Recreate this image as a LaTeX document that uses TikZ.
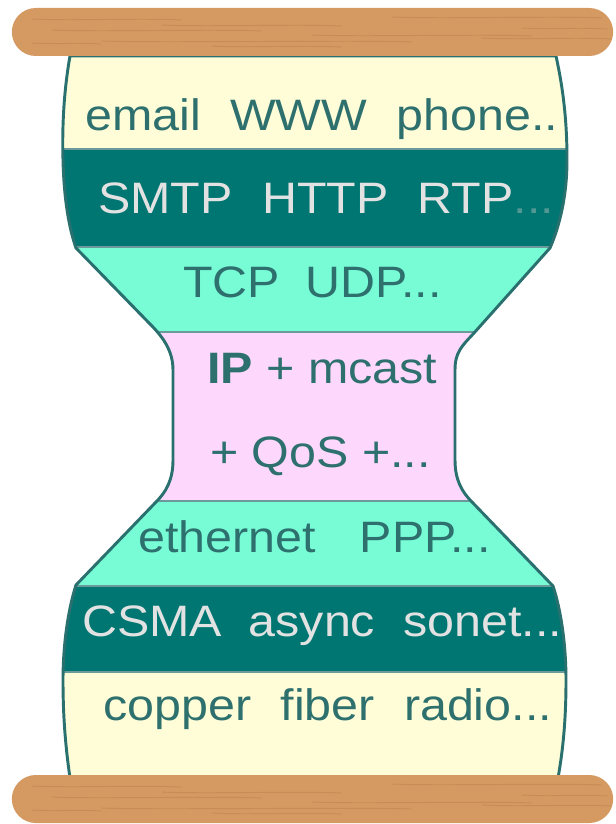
\documentclass[tikz,border=0pt]{standalone}
\usepackage{fontspec}
\setmainfont{Liberation Sans}[FakeStretch=1.1]
\usepackage{xcolor}
\usepackage{tikz}

\definecolor{cream}{RGB}{255,253,216}
\definecolor{deepteal}{RGB}{0,118,114}
\definecolor{aqua}{RGB}{120,252,214}
\definecolor{lilac}{RGB}{253,216,252}
\definecolor{rim}{RGB}{42,112,111}
\definecolor{ink}{RGB}{46,112,110}
\definecolor{paleink}{RGB}{226,226,226}
\definecolor{fadedots}{RGB}{80,150,146}
\definecolor{woodlight}{RGB}{236,192,142}
\definecolor{wooddark}{RGB}{212,154,98}
\definecolor{grain}{RGB}{160,108,62}

% outline of the hourglass (x right, y down)
\newcommand{\glassoutline}{(70,56) .. controls (64,90) and (62,125) .. (63,160)
    .. controls (64,200) and (69,228) .. (76,248) -- (150,324)
    .. controls (162,336) and (173,350) .. (173,370) -- (173,460)
    .. controls (173,480) and (166,492) .. (156,502) -- (76,585)
    .. controls (68,610) and (63,645) .. (63,680)
    .. controls (63,720) and (66,750) .. (70,778) -- (558,778)
    .. controls (563,750) and (566,720) .. (566,680)
    .. controls (566,645) and (561,610) .. (553,586) -- (472,502)
    .. controls (462,492) and (455,480) .. (455,460) -- (455,370)
    .. controls (455,352) and (462,346) .. (474,333) -- (550,248)
    .. controls (560,225) and (567,195) .. (567,160)
    .. controls (567,120) and (563,88) .. (556,56) -- cycle}

\begin{document}
\begin{tikzpicture}[
        x=0.75pt,
        y=-0.75pt,
        layer/.style={
            font=\fontsize{33}{40}\selectfont,
            anchor=base west,
            inner sep=0pt,
            text=ink
        },
        darklayer/.style={
            layer,
            text=paleink
        },
        bar/.style={
            rounded corners=18pt,
            minimum width=451pt,
            minimum height=36pt,
            inner sep=0pt,
            top color=wooddark,
            middle color=woodlight,
            bottom color=wooddark
        },
        rimline/.style={
            draw=rim,
            line width=2.2pt
        }
    ]

        \useasboundingbox (0,0) rectangle (615,824);

        \begin{scope}
            \clip \glassoutline;
            \fill[cream] (0,0) rectangle (615,149);
            \fill[deepteal] (0,149) rectangle (615,247);
            \fill[aqua] (0,247) rectangle (615,332);
            \fill[lilac] (0,332) rectangle (615,501);
            \fill[aqua] (0,501) rectangle (615,586);
            \fill[deepteal] (0,586) rectangle (615,672);
            \fill[cream] (0,672) rectangle (615,824);
            \foreach \y in {149,247,332,501,586,672}
                \draw[rim!70, line width=0.8pt] (0,\y) -- (615,\y);
        \end{scope}
        \draw[rimline] \glassoutline;

        \node[bar] (topbar) at (312.5,32) {};
        \node[bar] (basebar) at (312.5,799) {};

        \foreach \b in {topbar,basebar} {
            \begin{scope}
                \clip[rounded corners=18pt] (\b.south west) rectangle (\b.north east);
                \begin{scope}[shift={(\b.west)}]
                    \foreach \gy/\ga/\gb in {-13/20/170, -7/150/330, -2/40/250, 3/300/520,
                                             9/90/400, -15/380/590, 6/470/600, -4/510/596, 14/200/330, 11/20/90}
                        \draw[grain, opacity=.28, line width=.7pt]
                            (\ga,\gy) .. controls +(40,2) and +(-40,-2) .. (\gb,\gy+1);
                \end{scope}
            \end{scope}
        }

        \node[layer] (apps) at (85,130) {email\hspace{22pt}WWW\hspace{22pt}phone..};
        \node[darklayer] (appproto) at (98,213) {SMTP\hspace{22pt}HTTP\hspace{22pt}RTP\textcolor{fadedots}{...}};
        \node[layer] (transport) at (183,297) {TCP\hspace{19pt}UDP...};
        \node[layer] (ipmcast) at (207,383) {\textbf{IP} + mcast};
        \node[layer] (ipqos) at (210,467) {+ QoS +...};
        \node[layer] (link) at (138,552) {ethernet\hspace{33pt}PPP...};
        \node[darklayer] (mac) at (82,636) {CSMA\hspace{20pt}async\hspace{21pt}sonet...};
        \node[layer] (phys) at (103,720) {copper\hspace{22pt}fiber\hspace{22pt}radio...};

    \end{tikzpicture}
\end{document}
